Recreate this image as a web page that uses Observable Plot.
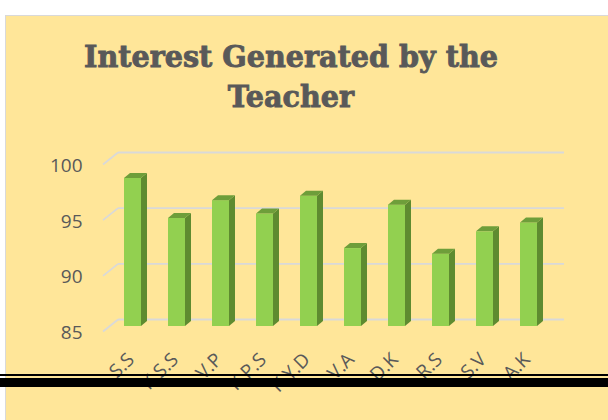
<!DOCTYPE html>
<html>
<head>
<meta charset="utf-8">
<script src="https://cdn.jsdelivr.net/npm/d3@7"></script>
<script src="https://cdn.jsdelivr.net/npm/@observablehq/plot@0.6"></script>
<style>
  html, body { margin: 0; padding: 0; background: #ffffff; }
  body { width: 608px; height: 420px; position: relative; overflow: hidden; }
  #panel { position: absolute; left: 5px; top: 15px; width: 603px; height: 405px;
           background: #FFE699; border-left: 1.5px solid #D9D9D9; border-top: 1.5px solid #D9D9D9; box-sizing: border-box; }
  #chart { position: absolute; left: 0; top: 0; }
  #title { position: absolute; left: 6px; width: 570px; top: 37px; text-align: center;
           font-family: "DejaVu Serif", serif; font-weight: bold; font-size: 30px; line-height: 40px;
           color: #595959; -webkit-text-stroke: 0.9px #595959;
           transform-origin: 285px 0; white-space: nowrap; }
  .bline { position: absolute; left: 0; width: 608px; background: #000; }
</style>
</head>
<body>
<div id="panel"></div>
<div id="chart"></div>
<div id="title"><span id="t1">Interest Generated by the</span><br><span id="t2">Teacher</span></div>
<div class="bline" style="top:374px;height:2px"></div>
<div class="bline" style="top:378px;height:9px"></div>
<script>
const teachers = ["S.S", "K.S.S", "V.P", "K.P.S", "K.Y.D", "V.A", "D.K", "R.S", "S.V", "A.K"];
const interest = [98.3, 94.7, 96.3, 95.1, 96.7, 92.0, 95.9, 91.5, 93.5, 94.3];
const yTicks = [85, 90, 95, 100];

const data = teachers.map((t, i) => ({teacher: t, value: interest[i]}));

const svg = Plot.plot({
  width: 608, height: 420,
  marginTop: 152, marginBottom: 101, marginLeft: 108, marginRight: 55,
  style: {background: "transparent", fontFamily: "'Open Sans', sans-serif", color: "#595959"},
  x: {domain: teachers, paddingInner: 0.604, paddingOuter: 0.302, label: null},
  y: {domain: [85, 100], label: null},
  marks: [
    Plot.ruleY(yTicks, {stroke: "#D9D9D9", strokeWidth: 1.8, insetLeft: 10, insetRight: -11}),
    Plot.barY(data, {x: "teacher", y1: 85, y2: "value", fill: "#92D050", dy: 7}),
    Plot.axisY({ticks: yTicks, tickSize: 0, tickPadding: 26, dy: 13.5, fontSize: 19, tickFormat: d => String(d), label: null}),
    Plot.axisX({tickSize: 0, tickRotate: -45, tickPadding: 37, fontSize: 19, dx: -2, label: null})
  ]
});
document.getElementById("chart").appendChild(svg);

// 3D faces for bars
const ns = "http://www.w3.org/2000/svg";
const depthX = 6, depthY = 5;
const barGroup = svg.querySelector('g[aria-label="bar"]');
if (barGroup) {
  Array.from(barGroup.querySelectorAll("rect")).forEach(r => {
    const x = +r.getAttribute("x"), y = +r.getAttribute("y");
    const w = +r.getAttribute("width"), h = +r.getAttribute("height");
    const side = document.createElementNS(ns, "polygon");
    side.setAttribute("points", `${x + w},${y} ${x + w + depthX},${y - depthY} ${x + w + depthX},${y + h - depthY} ${x + w},${y + h}`);
    side.setAttribute("fill", "#5E8B30");
    const top = document.createElementNS(ns, "polygon");
    top.setAttribute("points", `${x},${y} ${x + depthX},${y - depthY} ${x + w + depthX},${y - depthY} ${x + w},${y}`);
    top.setAttribute("fill", "#6E9E3A");
    barGroup.appendChild(side);
    barGroup.appendChild(top);
  });
}

// diagonal floor/wall grid connectors
const yS = svg.scale("y");
const ruleGroup = svg.querySelector('g[aria-label="rule"]');
yTicks.forEach(v => {
  const yy = yS.apply(v);
  const l = document.createElementNS(ns, "line");
  l.setAttribute("x1", 103); l.setAttribute("y1", yy + 12);
  l.setAttribute("x2", 118); l.setAttribute("y2", yy);
  l.setAttribute("stroke", "#D9D9D9"); l.setAttribute("stroke-width", 1.8);
  (ruleGroup || svg).appendChild(l);
});

// fit title width
const t1 = document.getElementById("t1");
const w1 = t1.getBoundingClientRect().width;
const s = 414 / w1;
document.getElementById("title").style.transform = `scaleX(${s})`;
</script>
</body>
</html>
